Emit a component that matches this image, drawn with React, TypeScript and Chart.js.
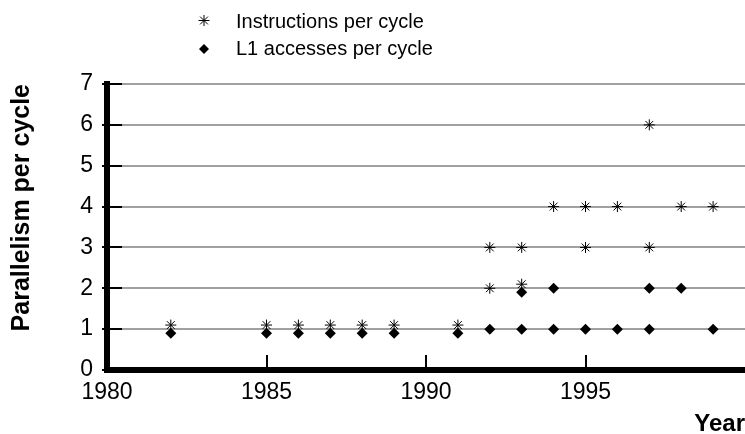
import React, { useEffect, useRef } from 'react';
import { Chart, registerables } from 'chart.js';

Chart.register(...registerables);

const seriesNames = ['Instructions per cycle', 'L1 accesses per cycle'];
const instrYears = [1982, 1985, 1986, 1987, 1988, 1989, 1991, 1992, 1992, 1993, 1993, 1994, 1995, 1995, 1996, 1997, 1997, 1998, 1999];
const instrValues = [1.1, 1.1, 1.1, 1.1, 1.1, 1.1, 1.1, 2, 3, 2.1, 3, 4, 3, 4, 4, 3, 6, 4, 4];
const l1Years = [1982, 1985, 1986, 1987, 1988, 1989, 1991, 1992, 1993, 1993, 1994, 1994, 1995, 1996, 1997, 1997, 1998, 1999];
const l1Values = [0.9, 0.9, 0.9, 0.9, 0.9, 0.9, 0.9, 1, 1, 1.9, 1, 2, 1, 1, 1, 2, 2, 1];
const xInnerTicks = [1985, 1990, 1995];
const yTickValues = [0, 1, 2, 3, 4, 5, 6, 7];
const xTitle = 'Year';
const yTitle = 'Parallelism per cycle';

const FONT = '"Liberation Sans", Arial, Helvetica, sans-serif';

function drawStar(ctx: CanvasRenderingContext2D, x: number, y: number, r: number) {
  const d = r * Math.SQRT1_2;
  ctx.beginPath();
  ctx.moveTo(x - r, y); ctx.lineTo(x + r, y);
  ctx.moveTo(x, y - r); ctx.lineTo(x, y + r);
  ctx.moveTo(x - d, y - d); ctx.lineTo(x + d, y + d);
  ctx.moveTo(x - d, y + d); ctx.lineTo(x + d, y - d);
  ctx.stroke();
}

function drawDiamond(ctx: CanvasRenderingContext2D, x: number, y: number, r: number) {
  ctx.beginPath();
  ctx.moveTo(x, y - r); ctx.lineTo(x + r, y); ctx.lineTo(x, y + r); ctx.lineTo(x - r, y);
  ctx.closePath();
  ctx.fill();
}

const decorPlugin = {
  id: 'decor',
  beforeDatasetsDraw(chart: any) {
    const ctx = chart.ctx as CanvasRenderingContext2D;
    const { left, bottom } = chart.chartArea;
    const xs = chart.scales.x;
    const ys = chart.scales.y;
    ctx.save();
    ctx.strokeStyle = '#000';
    ctx.lineWidth = 2;
    ctx.beginPath();
    for (const v of yTickValues) {
      const py = Math.round(ys.getPixelForValue(v));
      ctx.moveTo(left - 5, py);
      ctx.lineTo(left + 15, py);
    }
    for (const v of xInnerTicks) {
      const px = Math.round(xs.getPixelForValue(v));
      ctx.moveTo(px, bottom - 15);
      ctx.lineTo(px, bottom);
    }
    ctx.stroke();
    ctx.restore();
  },
  afterDraw(chart: any) {
    const ctx = chart.ctx as CanvasRenderingContext2D;
    ctx.save();
    ctx.strokeStyle = '#000';
    ctx.fillStyle = '#000';
    ctx.lineWidth = 1;
    drawStar(ctx, 204, 20.5, 5.5);
    drawDiamond(ctx, 204, 49, 5);
    ctx.font = `20px ${FONT}`;
    ctx.textBaseline = 'alphabetic';
    ctx.textAlign = 'left';
    ctx.fillText(seriesNames[0], 236, 28);
    ctx.fillText(seriesNames[1], 236, 55);
    ctx.restore();
  },
};

export default function App() {
  const ref = useRef<HTMLCanvasElement>(null);
  useEffect(() => {
    document.body.style.margin = '0';
    const canvas = ref.current!;
    const chart = new Chart(canvas, {
      type: 'scatter',
      data: {
        datasets: [
          {
            label: seriesNames[1],
            data: l1Years.map((x, i) => ({ x, y: l1Values[i] })),
            pointStyle: 'rectRot',
            pointRadius: 5.5,
            pointBackgroundColor: '#000',
            pointBorderColor: '#000',
            pointBorderWidth: 0,
            order: 0,
          },
          {
            label: seriesNames[0],
            data: instrYears.map((x, i) => ({ x, y: instrValues[i] })),
            pointStyle: 'star',
            pointRadius: 5.5,
            pointBorderColor: '#000',
            pointBackgroundColor: '#000',
            pointBorderWidth: 1,
            order: 1,
          },
        ],
      },
      options: {
        animation: false,
        responsive: false,
        maintainAspectRatio: false,
        layout: { autoPadding: false, padding: { top: 84, left: 0, right: 0, bottom: 0 } },
        plugins: { legend: { display: false }, tooltip: { enabled: false } },
        scales: {
          x: {
            type: 'linear',
            min: 1980,
            max: 2000,
            grid: { display: false, drawTicks: false },
            border: { display: true, color: '#000', width: 6 },
            ticks: {
              stepSize: 5,
              padding: 9,
              color: '#000',
              font: { family: FONT, size: 23 },
              maxRotation: 0,
              callback: (v: any) => (v === 2000 ? '' : String(v)),
            },
            title: {
              display: true,
              text: xTitle,
              align: 'end',
              color: '#000',
              font: { family: FONT, size: 24, weight: 'bold' },
              padding: { top: 0, bottom: -5 },
            },
            afterFit: (s: any) => {
              s.height = 64;
              s.paddingLeft = 0;
              s.paddingRight = 0;
            },
          },
          y: {
            type: 'linear',
            min: 0,
            max: 7,
            grid: { color: '#a0a0a0', lineWidth: 2, drawTicks: false },
            border: { display: true, color: '#000', width: 6 },
            ticks: {
              stepSize: 1,
              padding: 14,
              color: '#000',
              font: { family: FONT, size: 23 },
              callback: (v: any) => String(v),
            },
            title: {
              display: true,
              text: yTitle,
              align: 'end',
              color: '#000',
              font: { family: FONT, size: 25, weight: 'bold' },
              padding: { top: 7, bottom: 0 },
            },
            afterFit: (s: any) => {
              s.width = 107;
              s.paddingTop = 0;
              s.paddingBottom = 0;
            },
          },
        },
      },
      plugins: [decorPlugin],
    } as any);
    return () => chart.destroy();
  }, []);
  return (
    <div style={{ width: 745, height: 434, background: '#fff' }}>
      <canvas ref={ref} width={745} height={434} style={{ display: 'block' }} />
    </div>
  );
}
